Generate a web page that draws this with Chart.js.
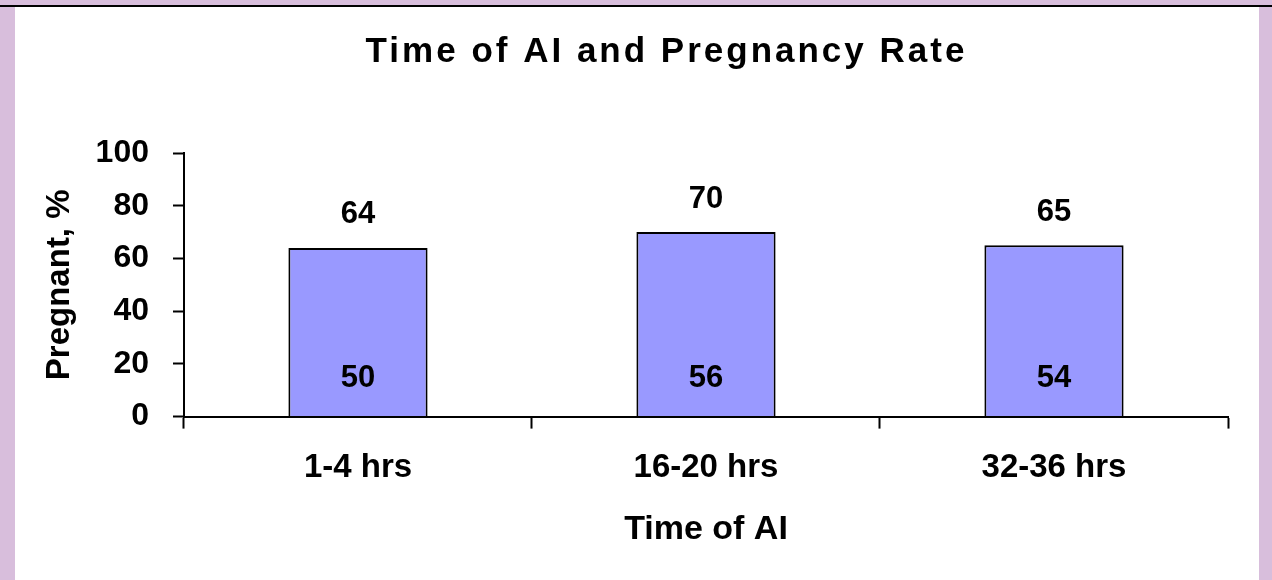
<!DOCTYPE html>
<html>
<head>
<meta charset="utf-8">
<script src="https://cdn.jsdelivr.net/npm/chart.js@4.4.1/dist/chart.umd.min.js"></script>
<style>
  html, body { margin: 0; padding: 0; width: 1272px; height: 580px; overflow: hidden; background: #d8bedc; position: relative; }
  #topline { position: absolute; left: 0; top: 5px; width: 1272px; height: 2px; background: #000; }
  #panel { position: absolute; left: 15px; top: 7px; width: 1244px; height: 573px; background: #fff; }
  #wrap { position: absolute; left: 15px; top: 7px; width: 1244px; height: 573px; }
</style>
</head>
<body>
<div id="topline"></div>
<div id="panel"></div>
<div id="wrap"><canvas id="c" width="1244" height="573"></canvas></div>
<script>
const categories = ["1-4 hrs", "16-20 hrs", "32-36 hrs"];
const pregnantPct = [64, 70, 65];
const innerLabels = ["50", "56", "54"];
const yTicks = [0, 20, 40, 60, 80, 100];

const FONT = "'Liberation Sans', Arial, sans-serif";

const labelPlugin = {
  id: 'barLabels',
  afterDatasetsDraw(chart) {
    const ctx = chart.ctx;
    const meta = chart.getDatasetMeta(0);
    ctx.save();
    ctx.fillStyle = '#000';
    ctx.font = "bold 31px " + FONT;
    ctx.textAlign = 'center';
    ctx.textBaseline = 'middle';
    meta.data.forEach((bar, i) => {
      ctx.fillText(String(pregnantPct[i]), bar.x, bar.y - 33);
      ctx.fillText(innerLabels[i], bar.x, bar.base - 38);
    });
    ctx.restore();
  }
};

// spaced-out title, shifted to where the reference puts it
const titleStyle = {
  id: 'titleStyle',
  beforeDraw(chart) {
    const tb = chart.titleBlock;
    if (!tb || tb._patched) return;
    const orig = tb.draw.bind(tb);
    tb.draw = function () {
      const c = this.ctx;
      c.save();
      c.letterSpacing = '3px';
      c.translate(40, 0);
      orig();
      c.restore();
    };
    tb._patched = true;
  }
};

new Chart(document.getElementById('c'), {
  type: 'bar',
  data: {
    labels: categories,
    datasets: [{
      data: pregnantPct,
      backgroundColor: '#9999ff',
      borderColor: '#000',
      borderWidth: 2,
      barPercentage: 0.4,
      categoryPercentage: 1.0
    }]
  },
  options: {
    responsive: false,
    animation: false,
    events: [],
    layout: { padding: { left: 10, right: 31, top: 0, bottom: 9 } },
    plugins: {
      legend: { display: false },
      tooltip: { enabled: false },
      title: {
        display: true,
        text: 'Time of AI and Pregnancy Rate',
        color: '#000',
        font: { family: FONT, size: 35, weight: 'bold' },
        padding: { top: 24, bottom: 80 }
      }
    },
    scales: {
      x: {
        offset: true,
        grid: { display: true, offset: true, drawOnChartArea: false, drawTicks: true, tickLength: 12, tickColor: '#000', tickWidth: 2 },
        border: { display: true, color: '#000', width: 2 },
        ticks: { color: '#000', padding: 20, font: { family: FONT, size: 33, weight: 'bold' } },
        title: { display: true, text: 'Time of AI', color: '#000', font: { family: FONT, size: 34, weight: 'bold' }, padding: { top: 1, bottom: 21 } }
      },
      y: {
        min: 0, max: 100,
        afterBuildTicks(scale) { scale.ticks = yTicks.map(v => ({ value: v })); },
        grid: { display: true, drawOnChartArea: false, drawTicks: true, tickLength: 11, tickColor: '#000', tickWidth: 2 },
        border: { display: true, color: '#000', width: 2 },
        ticks: { color: '#000', padding: 24, font: { family: FONT, size: 32, weight: 'bold' } },
        title: { display: true, text: 'Pregnant, %', color: '#000', font: { family: FONT, size: 33, weight: 'bold' }, padding: { top: 15, bottom: -8 } }
      }
    }
  },
  plugins: [labelPlugin, titleStyle]
});
</script>
</body>
</html>
